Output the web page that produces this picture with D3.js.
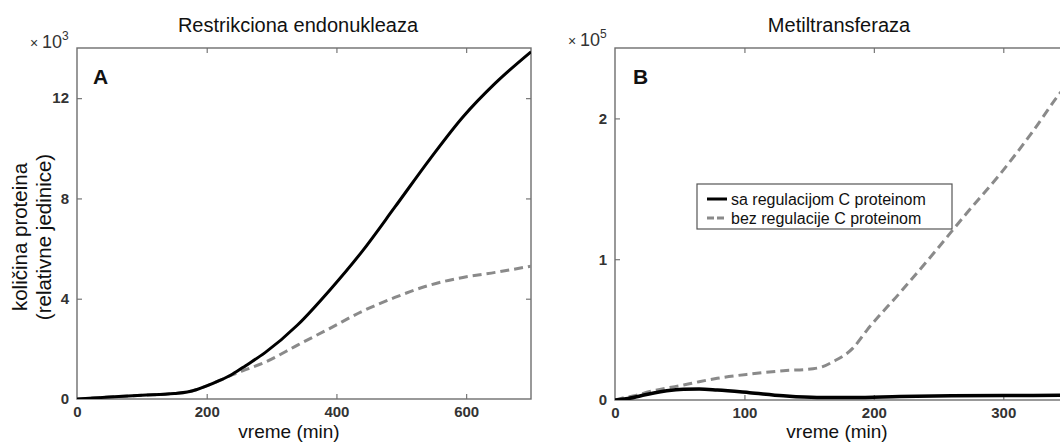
<!DOCTYPE html>
<html><head><meta charset="utf-8">
<script src="https://cdn.jsdelivr.net/npm/d3@7"></script>
<style>
html,body{margin:0;padding:0;background:#fff;}
svg{display:block;font-family:"Liberation Sans",Arial,Helvetica,sans-serif;}
</style></head>
<body><svg id="c" width="1060" height="442"></svg>
<script>
// ---- data ----
const titles = ["Restrikciona endonukleaza", "Metiltransferaza"];
const panelLetters = ["A", "B"];
const xLabel = "vreme (min)";
const yLabel1 = "količina proteina";
const yLabel2 = "(relativne jedinice)";
const legendLabels = ["sa regulacijom C proteinom", "bez regulacije C proteinom"];

const aXTicks = [0, 200, 400, 600];
const aYTicks = [0, 4, 8, 12];
const aExp = "3";
const aTime = [0, 25, 50, 100, 150, 170, 185, 200, 220, 240, 260, 290, 340, 390, 440, 490, 545, 595, 645, 700];
const aWith = [0, 0.04, 0.08, 0.15, 0.22, 0.28, 0.38, 0.52, 0.74, 1.0, 1.33, 1.85, 2.95, 4.35, 5.9, 7.65, 9.6, 11.25, 12.6, 13.85];
const aWithout = [0, 0.04, 0.08, 0.15, 0.22, 0.28, 0.38, 0.52, 0.74, 0.97, 1.17, 1.47, 2.15, 2.82, 3.5, 4.05, 4.55, 4.85, 5.05, 5.3];

const bXTicks = [0, 100, 200, 300];
const bYTicks = [0, 1, 2];
const bExp = "5";
const bTimeWith = [0, 4, 10, 20, 30, 40, 53, 65, 79, 104, 130, 156, 184, 220, 260, 300, 350];
const bWith = [0, 0.003, 0.01, 0.03, 0.05, 0.065, 0.076, 0.078, 0.071, 0.052, 0.03, 0.018, 0.018, 0.025, 0.03, 0.032, 0.033];
const bTimeWithout = [0, 4, 15, 27, 40, 53, 65, 79, 104, 130, 153, 160, 168, 184, 195, 220, 246, 272, 298, 323, 343, 350];
const bWithout = [0, 0.01, 0.03, 0.06, 0.085, 0.106, 0.13, 0.154, 0.184, 0.208, 0.222, 0.235, 0.27, 0.37, 0.5, 0.76, 1.04, 1.33, 1.61, 1.91, 2.17, 2.25];

// ---- drawing ----
const svg = d3.select("#c");
const defs = svg.append("defs");

function panel(opt) {
  const {x0, x1, y0, y1, xDom, yDom, xTicks, yTicks, id} = opt;
  const x = d3.scaleLinear().domain(xDom).range([x0, x1]);
  const y = d3.scaleLinear().domain(yDom).range([y1, y0]);
  defs.append("clipPath").attr("id", id).append("rect")
    .attr("x", x0).attr("y", y0).attr("width", x1 - x0).attr("height", y1 - y0);
  const g = svg.append("g");
  const tickCol = "#777";
  const axB = g.append("g").attr("transform", `translate(0,${y1})`)
    .call(d3.axisBottom(x).tickValues(xTicks).tickSize(-5).tickPadding(7).tickFormat(d3.format("d")));
  const axT = g.append("g").attr("transform", `translate(0,${y0})`)
    .call(d3.axisTop(x).tickValues(xTicks.filter(v => v !== xDom[0])).tickSize(-5).tickFormat(""));
  const axL = g.append("g").attr("transform", `translate(${x0},0)`)
    .call(d3.axisLeft(y).tickValues(yTicks).tickSize(-5).tickPadding(8).tickFormat(d3.format("d")));
  const axR = g.append("g").attr("transform", `translate(${x1},0)`)
    .call(d3.axisRight(y).tickValues(yTicks.filter(v => v !== yDom[0])).tickSize(-5).tickFormat(""));
  [axB, axT, axL, axR].forEach(a => {
    a.select(".domain").remove();
    a.selectAll(".tick line").attr("stroke", tickCol).attr("stroke-width", 1.2);
    a.selectAll(".tick text").attr("fill", "#333").attr("font-size", 15).attr("font-weight", "bold")
      .attr("font-family", "Liberation Sans, Arial, sans-serif");
  });
  axB.selectAll(".tick line").filter(d => d === xDom[0]).remove();
  axL.selectAll(".tick line").filter(d => d === yDom[0]).remove();
  g.append("rect").attr("x", x0).attr("y", y0).attr("width", x1 - x0).attr("height", y1 - y0)
    .attr("fill", "none").attr("stroke", "#6e6e6e").attr("stroke-width", 1.4);
  return {x, y, g};
}

function drawLine(p, xs, ys, dashed, width, clip) {
  const data = xs.map((t, i) => [t, ys[i]]);
  p.g.append("path").datum(data)
    .attr("clip-path", `url(#${clip})`)
    .attr("fill", "none")
    .attr("stroke", dashed ? "#8a8a8a" : "#000")
    .attr("stroke-width", width)
    .attr("stroke-dasharray", dashed ? "9,5" : null)
    .attr("d", d3.line().x(d => p.x(d[0])).y(d => p.y(d[1])).curve(d3.curveMonotoneX));
}

// Panel A
const pA = panel({x0: 77, x1: 531, y0: 48, y1: 399, xDom: [0, 700], yDom: [0, 14], xTicks: aXTicks, yTicks: aYTicks, id: "clipA"});
drawLine(pA, aTime, aWithout, true, 3, "clipA");
drawLine(pA, aTime, aWith, false, 3, "clipA");

// Panel B
const pB = panel({x0: 615, x1: 1068, y0: 48, y1: 400, xDom: [0, 350], yDom: [0, 2.5], xTicks: bXTicks, yTicks: bYTicks, id: "clipB"});
drawLine(pB, bTimeWithout, bWithout, true, 3, "clipB");
drawLine(pB, bTimeWith, bWith, false, 3.5, "clipB");

// titles
svg.append("text").attr("x", 298).attr("y", 32).attr("text-anchor", "middle")
  .attr("font-size", 20).attr("fill", "#111").text(titles[0]);
svg.append("text").attr("x", 839).attr("y", 32).attr("text-anchor", "middle")
  .attr("font-size", 20).attr("fill", "#111").text(titles[1]);

// x labels
svg.append("text").attr("x", 289).attr("y", 438).attr("text-anchor", "middle")
  .attr("font-size", 19).attr("fill", "#111").text(xLabel);
svg.append("text").attr("x", 837).attr("y", 438).attr("text-anchor", "middle")
  .attr("font-size", 19).attr("fill", "#111").text(xLabel);

// y labels
svg.append("text").attr("transform", "translate(27,237) rotate(-90)").attr("text-anchor", "middle")
  .attr("font-size", 20.5).attr("fill", "#111").text(yLabel1);
svg.append("text").attr("transform", "translate(51,237) rotate(-90)").attr("text-anchor", "middle")
  .attr("font-size", 20.5).attr("fill", "#111").text(yLabel2);

// exponent labels
function expLabel(xx, yy, e) {
  const t = svg.append("text").attr("x", xx).attr("y", yy).attr("fill", "#333");
  t.append("tspan").attr("font-size", 14).text("× ");
  t.append("tspan").attr("font-size", 18).text("10");
  t.append("tspan").attr("font-size", 12).attr("dy", -8).text(e);
}
expLabel(30, 48, aExp);
expLabel(568, 46, bExp);

// panel letters
svg.append("text").attr("x", 93).attr("y", 84).attr("font-size", 21).attr("font-weight", "bold")
  .attr("fill", "#111").text(panelLetters[0]);
svg.append("text").attr("x", 633).attr("y", 84).attr("font-size", 21).attr("font-weight", "bold")
  .attr("fill", "#111").text(panelLetters[1]);

// legend
const lg = svg.append("g");
lg.append("rect").attr("x", 697).attr("y", 184).attr("width", 255).attr("height", 45)
  .attr("fill", "#fff").attr("stroke", "#555").attr("stroke-width", 1.2);
const rows = [{y: 199, dashed: false}, {y: 218, dashed: true}];
rows.forEach((r, i) => {
  lg.append("line").attr("x1", 707).attr("x2", 727).attr("y1", r.y).attr("y2", r.y)
    .attr("stroke", r.dashed ? "#8a8a8a" : "#000").attr("stroke-width", 3)
    .attr("stroke-dasharray", r.dashed ? "7,3" : null);
  lg.append("text").attr("x", 731).attr("y", r.y + 5.5).attr("font-size", 16).attr("fill", "#111")
    .text(legendLabels[i]);
});
</script></body></html>
